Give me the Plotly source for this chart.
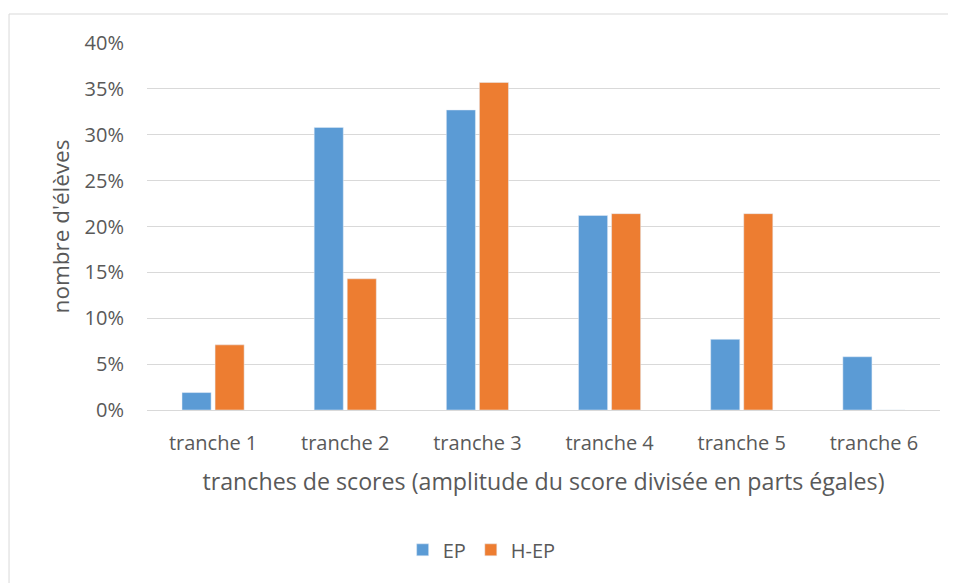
import plotly.graph_objects as go

categories = ["tranche 1", "tranche 2", "tranche 3", "tranche 4", "tranche 5", "tranche 6"]
ep_values = [0.019, 0.308, 0.327, 0.212, 0.077, 0.058]
hep_values = [0.071, 0.143, 0.357, 0.214, 0.214, 0.0]
y_ticks = [0, 0.05, 0.10, 0.15, 0.20, 0.25, 0.30, 0.35, 0.40]

text_color = "#595959"
grid_color = "#d9d9d9"
font_family = "Open Sans, Liberation Sans, sans-serif"

fig = go.Figure()
fig.add_trace(go.Bar(x=categories, y=ep_values, name="EP", marker_color="#5B9BD5"))
fig.add_trace(go.Bar(x=categories, y=hep_values, name="H-EP", marker_color="#ED7D31"))

# chart-area border (Excel style): only the top and left edges fall inside the window
border = dict(color=grid_color, width=1)
fig.add_shape(type="line", xref="paper", yref="paper",
              x0=-0.174, x1=1.2, y0=1.079, y1=1.079, line=border, layer="below")
fig.add_shape(type="line", xref="paper", yref="paper",
              x0=-0.174, x1=-0.174, y0=-0.6, y1=1.079, line=border, layer="below")

fig.update_yaxes(range=[0, 0.4], tickvals=y_ticks, tickformat=".0%",
                 showgrid=True, gridcolor=grid_color, gridwidth=1,
                 zeroline=False, ticklabelstandoff=22, automargin=False,
                 tickfont=dict(size=20, color=text_color),
                 title=dict(text="nombre d'élèves", standoff=8,
                            font=dict(size=22.5, color=text_color)))
fig.update_xaxes(showline=True, linecolor=grid_color, linewidth=1,
                 ticklabelstandoff=15, automargin=False,
                 tickfont=dict(size=20, color=text_color),
                 title=dict(text="tranches de scores (amplitude du score divisée en parts égales)",
                            standoff=18, font=dict(size=23.2, color=text_color)))

# the page body adds an 8px offset, so the figure is sized to fit inside the window
fig.update_layout(width=948, height=575,
                  barmode="group", bargap=0.5, bargroupgap=0.12,
                  margin=dict(l=139, r=16, t=35, b=173, autoexpand=False),
                  plot_bgcolor="white", paper_bgcolor="white",
                  font=dict(family=font_family, color=text_color),
                  legend=dict(orientation="h", x=0.422, xanchor="center",
                              y=-0.381, yanchor="middle",
                              font=dict(size=20, color=text_color)),
                  showlegend=True)

fig.write_html("out.html")
